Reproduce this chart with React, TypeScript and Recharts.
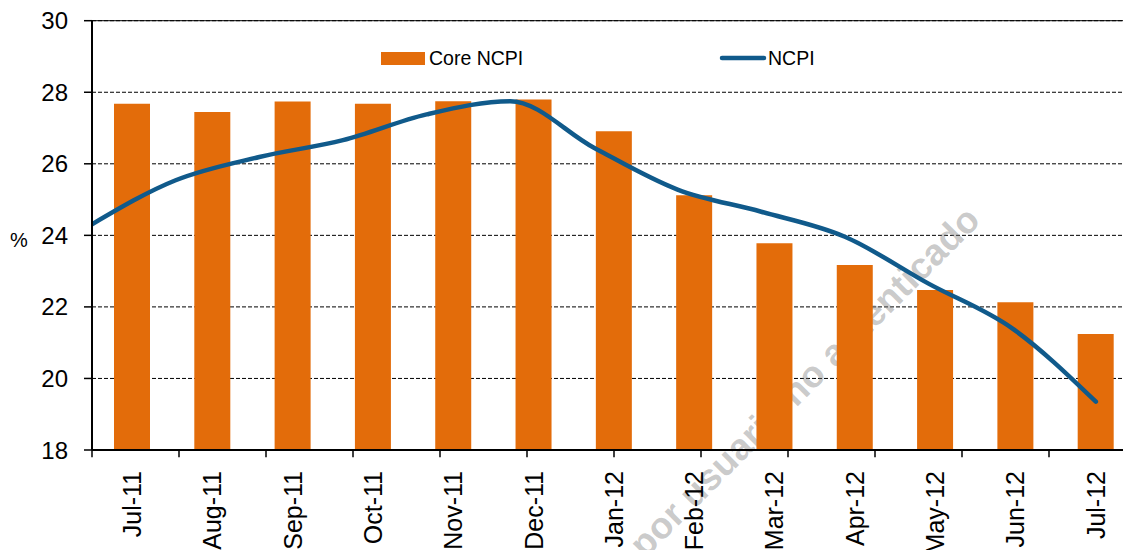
import React from 'react';
import {
  ComposedChart,
  Bar,
  Line,
  XAxis,
  YAxis,
  CartesianGrid,
  ReferenceLine,
  Legend,
  Customized,
} from 'recharts';

const categories = ['Jul-11', 'Aug-11', 'Sep-11', 'Oct-11', 'Nov-11', 'Dec-11', 'Jan-12', 'Feb-12', 'Mar-12', 'Apr-12', 'May-12', 'Jun-12', 'Jul-12'];
const coreNcpi = [27.68, 27.45, 27.74, 27.68, 27.75, 27.8, 26.91, 25.12, 23.78, 23.17, 22.47, 22.13, 21.24];
const ncpi = [24.31, 25.54, 26.19, 26.66, 27.38, 27.75, 26.45, 25.28, 24.66, 23.96, 22.65, 21.4, 19.35];
const yTicks = [18, 20, 22, 24, 26, 28, 30];
const boundaries = [0, 1, 2, 3, 4, 5, 6, 7, 8, 9, 10, 11, 12, 13];

const barData = categories.map((c, i) => ({ cat: c, core: coreNcpi[i] }));
const lineData = ncpi.map((v, i) => ({ idx: i, ncpi: v }));

const FONT = '"Liberation Sans", Arial, sans-serif';
const ORANGE = '#E36C0A';
const BLUE = '#105A8B';

const XTick = (props: any) => {
  const { x, y, payload } = props;
  return (
    <text
      x={x}
      y={y}
      transform={`rotate(-90 ${x} ${y})`}
      textAnchor="end"
      dy="0.355em"
      fontSize={25}
      fontFamily={FONT}
      fill="#000"
    >
      {payload.value}
    </text>
  );
};

const LegendContent = (props: any) => {
  const payload = props.payload || [];
  const bar = payload.find((p: any) => p.dataKey === 'core');
  const line = payload.find((p: any) => p.dataKey === 'ncpi');
  return (
    <svg width={1140} height={100} style={{ display: 'block' }}>
      <rect x={381} y={52} width={44} height={13} fill={ORANGE} />
      <text x={429} y={58} dy="0.355em" fontSize={19.5} fontFamily={FONT} fill="#000">
        {bar ? bar.value : 'Core NCPI'}
      </text>
      <line x1={722} x2={764} y1={58} y2={58} stroke={BLUE} strokeWidth={4.5} strokeLinecap="round" />
      <text x={768} y={58} dy="0.355em" fontSize={19.5} fontFamily={FONT} fill="#000">
        {line ? line.value : 'NCPI'}
      </text>
    </svg>
  );
};

const Watermark = () => (
  <text
    x={982}
    y={222}
    transform="rotate(-45 982 222)"
    textAnchor="end"
    fontSize={37}
    fontWeight="bold"
    fontFamily={FONT}
    fill="#808080"
    fillOpacity={0.42}
  >
    por usuario no autenticado
  </text>
);

export default function App() {
  return (
    <div style={{ position: 'absolute', left: 0, top: 0, width: 1123, height: 550, overflow: 'hidden', background: '#fff' }}>
      <ComposedChart
        width={1140}
        height={550}
        data={barData}
        margin={{ top: 20.7, right: 4, bottom: 0, left: 0 }}
      >
        <CartesianGrid xAxisId="cat" vertical={false} stroke="#000" strokeDasharray="4 2" strokeWidth={1} />
        <XAxis
          xAxisId="cat"
          dataKey="cat"
          type="category"
          height={100}
          axisLine={{ stroke: '#000', strokeWidth: 2 }}
          tickLine={false}
          tickSize={6}
          tickMargin={15}
          interval={0}
          tick={<XTick />}
        />
        <XAxis xAxisId="bnd" type="number" domain={[0, 13]} hide height={0} allowDataOverflow />
        <XAxis xAxisId="line" type="number" dataKey="idx" domain={[0, 12.48]} hide height={0} allowDataOverflow />
        <YAxis
          domain={[18, 30]}
          ticks={yTicks}
          width={92}
          interval={0}
          axisLine={{ stroke: '#000', strokeWidth: 2 }}
          tickLine={{ stroke: '#000', strokeWidth: 1.5 }}
          tickSize={8}
          tickMargin={16}
          tick={{ fontSize: 24, fontFamily: FONT, fill: '#000' }}
          allowDataOverflow
          label={{ value: '%', position: 'insideLeft', offset: 10, dy: 5, fontSize: 20, fontFamily: FONT, fill: '#000' }}
        />
        <ReferenceLine xAxisId="cat" y={30} stroke="#000" strokeWidth={1} />
        {boundaries.map((b) => (
          <ReferenceLine
            key={b}
            xAxisId="bnd"
            segment={[{ x: b, y: 18 }, { x: b, y: 17.8 }]}
            stroke="#000"
            strokeWidth={1.5}
            ifOverflow="visible"
          />
        ))}
        <Bar xAxisId="cat" dataKey="core" name="Core NCPI" fill={ORANGE} barSize={36} isAnimationActive={false} legendType="rect" />
        <Customized component={Watermark} />
        <Line
          xAxisId="line"
          data={lineData}
          dataKey="ncpi"
          name="NCPI"
          type="monotone"
          stroke={BLUE}
          strokeWidth={4.5}
          dot={false}
          activeDot={false}
          strokeLinecap="round"
          isAnimationActive={false}
        />
        <Legend
          layout="vertical"
          align="center"
          verticalAlign="middle"
          content={<LegendContent />}
          wrapperStyle={{ position: 'absolute', left: 0, top: 0, width: 1140, height: 100, pointerEvents: 'none' }}
        />
      </ComposedChart>
    </div>
  );
}
